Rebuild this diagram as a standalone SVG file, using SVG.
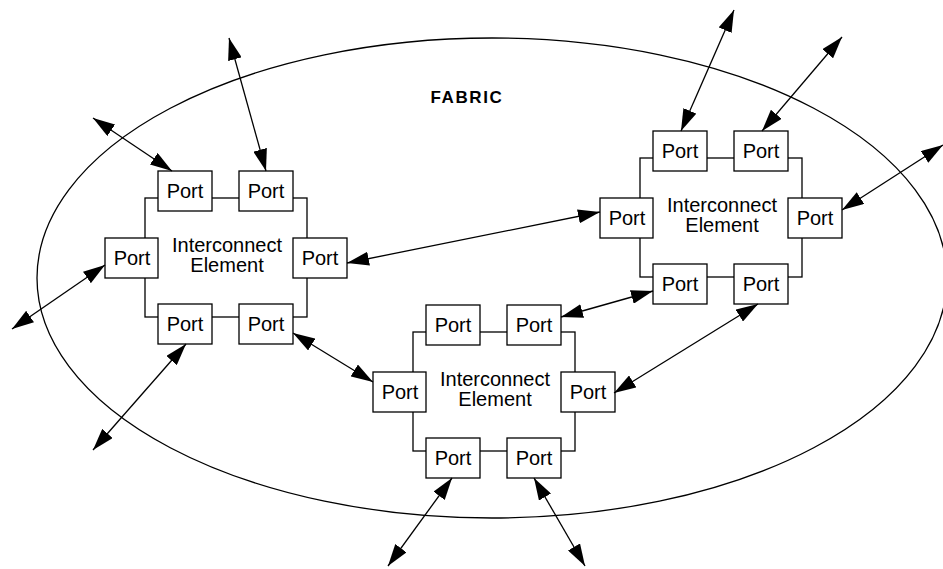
<svg xmlns="http://www.w3.org/2000/svg" width="943" height="569" viewBox="0 0 943 569">
<style>
.bg{fill:#fff}
.ell{fill:none;stroke:#000;stroke-width:1.3}
.ring{fill:none;stroke:#000;stroke-width:1.3}
.port rect{fill:#fff;stroke:#000;stroke-width:1.3}
.t{font-family:"Liberation Sans",Arial,sans-serif;font-size:20px;text-anchor:middle;fill:#000}
.f{font-family:"Liberation Sans",Arial,sans-serif;font-size:17px;font-weight:bold;text-anchor:middle;letter-spacing:1.6px;fill:#000}
.c line{stroke:#000;stroke-width:1.3;marker-start:url(#ah);marker-end:url(#ah)}
</style>
<defs>
<marker id="ah" viewBox="0 0 22 14" refX="22" refY="7" markerWidth="22" markerHeight="14" markerUnits="userSpaceOnUse" orient="auto-start-reverse">
<path d="M0,0 L22,7 L0,14 z" fill="#000"/>
</marker>
</defs>
<rect class="bg" x="0" y="0" width="943" height="569"/>
<g id="fabric">
<ellipse class="ell" cx="492" cy="278" rx="455" ry="240"/>
<text class="f" x="467" y="103">FABRIC</text>
</g>
<g id="element-left">
<rect class="ring" x="145" y="198" width="162" height="119"/>
<text class="t" x="227" y="252">Interconnect</text>
<text class="t" x="227" y="272">Element</text>
<g id="L-port-tl" class="port"><rect x="158" y="171" width="54" height="40"/><text class="t" x="185" y="198">Port</text></g>
<g id="L-port-tr" class="port"><rect x="239" y="171" width="54" height="40"/><text class="t" x="266" y="198">Port</text></g>
<g id="L-port-l" class="port"><rect x="105" y="238" width="53" height="40"/><text class="t" x="132" y="265">Port</text></g>
<g id="L-port-r" class="port"><rect x="293" y="238" width="54" height="40"/><text class="t" x="320" y="265">Port</text></g>
<g id="L-port-bl" class="port"><rect x="158" y="304" width="54" height="40"/><text class="t" x="185" y="331">Port</text></g>
<g id="L-port-br" class="port"><rect x="239" y="304" width="54" height="40"/><text class="t" x="266" y="331">Port</text></g>
</g>
<g id="element-right" transform="translate(495,-40)">
<rect class="ring" x="145" y="198" width="162" height="119"/>
<text class="t" x="227" y="252">Interconnect</text>
<text class="t" x="227" y="272">Element</text>
<g id="R-port-tl" class="port"><rect x="158" y="171" width="54" height="40"/><text class="t" x="185" y="198">Port</text></g>
<g id="R-port-tr" class="port"><rect x="239" y="171" width="54" height="40"/><text class="t" x="266" y="198">Port</text></g>
<g id="R-port-l" class="port"><rect x="105" y="238" width="53" height="40"/><text class="t" x="132" y="265">Port</text></g>
<g id="R-port-r" class="port"><rect x="293" y="238" width="54" height="40"/><text class="t" x="320" y="265">Port</text></g>
<g id="R-port-bl" class="port"><rect x="158" y="304" width="54" height="40"/><text class="t" x="185" y="331">Port</text></g>
<g id="R-port-br" class="port"><rect x="239" y="304" width="54" height="40"/><text class="t" x="266" y="331">Port</text></g>
</g>
<g id="element-bottom" transform="translate(268,134)">
<rect class="ring" x="145" y="198" width="162" height="119"/>
<text class="t" x="227" y="252">Interconnect</text>
<text class="t" x="227" y="272">Element</text>
<g id="B-port-tl" class="port"><rect x="158" y="171" width="54" height="40"/><text class="t" x="185" y="198">Port</text></g>
<g id="B-port-tr" class="port"><rect x="239" y="171" width="54" height="40"/><text class="t" x="266" y="198">Port</text></g>
<g id="B-port-l" class="port"><rect x="105" y="238" width="53" height="40"/><text class="t" x="132" y="265">Port</text></g>
<g id="B-port-r" class="port"><rect x="293" y="238" width="54" height="40"/><text class="t" x="320" y="265">Port</text></g>
<g id="B-port-bl" class="port"><rect x="158" y="304" width="54" height="40"/><text class="t" x="185" y="331">Port</text></g>
<g id="B-port-br" class="port"><rect x="239" y="304" width="54" height="40"/><text class="t" x="266" y="331">Port</text></g>
</g>
<g id="connectors" class="c">
<line x1="93" y1="118" x2="172" y2="171"/>
<line x1="229" y1="38" x2="266" y2="171"/>
<line x1="12" y1="329" x2="105" y2="265"/>
<line x1="93" y1="450" x2="186" y2="344"/>
<line x1="293" y1="333" x2="373" y2="382"/>
<line x1="347" y1="263" x2="600" y2="212"/>
<line x1="734" y1="10" x2="681" y2="131"/>
<line x1="842" y1="37" x2="762" y2="131"/>
<line x1="943" y1="145" x2="842" y2="210"/>
<line x1="653" y1="291" x2="561" y2="317"/>
<line x1="758" y1="304" x2="614" y2="393"/>
<line x1="452" y1="478" x2="388" y2="566"/>
<line x1="534" y1="478" x2="585" y2="566"/>
</g>
</svg>
